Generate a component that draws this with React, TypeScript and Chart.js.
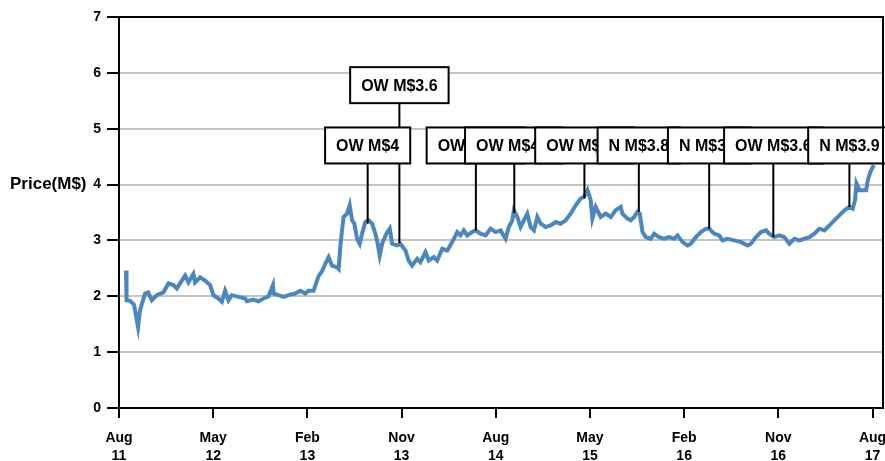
import React, { useEffect, useRef } from "react";
import { Chart, registerables } from "chart.js";

Chart.register(...registerables);

// Months since Aug 2011
const monthOffsets = [
  0.67, 0.72, 1.05, 1.44, 1.82, 2.01, 2.49, 2.8, 3.13, 3.61, 4.24, 4.72, 5.2, 5.52, 6.0, 6.32, 6.63, 7.11, 7.27, 7.75,
  8.23, 8.71, 9.02, 9.5, 9.83, 10.14, 10.46, 10.78, 11.42, 12.06, 12.22, 12.85, 13.33, 13.81, 14.29, 14.71, 14.77, 15.24, 15.72, 16.36,
  16.84, 17.32, 17.8, 18.11, 18.59, 19.07, 19.4, 19.71, 20.03, 20.35, 20.83, 20.99, 21.15, 21.31, 21.46, 21.79, 22.04, 22.27, 22.49, 22.75,
  23.0, 23.22, 23.54, 23.86, 24.18, 24.5, 24.72, 24.91, 25.14, 25.55, 25.87, 26.1, 26.57, 26.89, 27.37, 27.68, 28.01, 28.49, 28.8, 29.28,
  29.6, 30.08, 30.4, 30.88, 31.36, 31.84, 32.32, 32.63, 32.95, 33.27, 33.75, 34.07, 34.55, 35.02, 35.5, 35.98, 36.46, 36.94, 37.25, 37.58,
  37.73, 38.06, 38.37, 38.69, 39.01, 39.33, 39.65, 39.97, 40.29, 40.77, 41.24, 41.72, 42.2, 42.68, 43.16, 43.64, 44.11, 44.43, 44.76, 45.07,
  45.23, 45.55, 46.03, 46.51, 46.99, 47.46, 47.94, 48.1, 48.58, 48.9, 49.22, 49.54, 49.76, 50.02, 50.33, 50.81, 51.13, 51.61, 52.09, 52.56,
  53.04, 53.37, 53.85, 54.33, 54.64, 55.12, 55.6, 56.08, 56.39, 56.87, 57.35, 57.67, 58.15, 58.79, 59.43, 60.07, 60.38, 60.86, 61.34, 61.82,
  62.13, 62.61, 63.09, 63.57, 64.05, 64.53, 65.0, 65.48, 65.96, 66.44, 66.92, 67.4, 67.88, 68.35, 68.83, 69.31, 69.79, 70.11, 70.33, 70.46,
  70.75, 71.39, 71.55, 71.8, 72.12,
];

const prices = [
  2.46, 1.93, 1.92, 1.85, 1.45, 1.75, 2.05, 2.07, 1.93, 2.02, 2.07, 2.23, 2.2, 2.14, 2.28, 2.37, 2.25, 2.4, 2.25, 2.34,
  2.28, 2.2, 2.02, 1.96, 1.9, 2.1, 1.93, 2.02, 1.99, 1.96, 1.91, 1.94, 1.91, 1.96, 2.0, 2.2, 2.05, 2.02, 1.99, 2.03,
  2.05, 2.1, 2.05, 2.1, 2.1, 2.36, 2.45, 2.58, 2.7, 2.55, 2.52, 2.49, 2.9, 3.18, 3.42, 3.48, 3.63, 3.36, 3.3, 3.03,
  2.94, 3.12, 3.33, 3.36, 3.3, 3.12, 2.94, 2.73, 2.94, 3.12, 3.21, 2.94, 2.91, 2.94, 2.82, 2.64, 2.55, 2.67, 2.61, 2.79,
  2.64, 2.7, 2.64, 2.85, 2.82, 2.97, 3.15, 3.09, 3.18, 3.09, 3.15, 3.18, 3.12, 3.09, 3.21, 3.15, 3.18, 3.03, 3.24, 3.36,
  3.54, 3.42, 3.24, 3.36, 3.48, 3.24, 3.18, 3.42, 3.3, 3.24, 3.27, 3.33, 3.3, 3.36, 3.48, 3.63, 3.75, 3.78, 3.9, 3.72,
  3.39, 3.6, 3.42, 3.48, 3.42, 3.54, 3.6, 3.48, 3.39, 3.36, 3.42, 3.51, 3.48, 3.15, 3.06, 3.03, 3.12, 3.06, 3.03, 3.06,
  3.03, 3.09, 2.97, 2.91, 2.94, 3.06, 3.15, 3.21, 3.21, 3.12, 3.09, 3.0, 3.03, 3.0, 2.97, 2.91, 2.94, 3.06, 3.15, 3.18,
  3.12, 3.06, 3.09, 3.06, 2.94, 3.03, 3.0, 3.03, 3.06, 3.12, 3.21, 3.18, 3.27, 3.36, 3.45, 3.54, 3.6, 3.57, 3.72, 4.02,
  3.9, 3.9, 4.08, 4.23, 4.35,
];

const tickMonths = [0, 9, 18, 27, 36, 45, 54, 63, 72];
const tickMonthNames = ["Aug", "May", "Feb", "Nov", "Aug", "May", "Feb", "Nov", "Aug"];
const tickYears = ["11", "12", "13", "13", "14", "15", "16", "16", "17"];

const noteLabels = ["OW M$4", "OW M$3.6", "OW M$3.5", "OW M$4.2", "OW M$3.8", "N M$3.8", "N M$3.2", "OW M$3.6", "N M$3.9"];
const noteMonths = [23.76, 26.79, 34.1, 37.77, 44.47, 49.67, 56.39, 62.52, 69.79];
const notePrices = [3.3, 2.95, 3.18, 3.49, 3.75, 3.51, 3.21, 3.06, 3.6];
const noteRows = [0, 1, 0, 0, 0, 0, 0, 0, 0];

const FONT = '"Liberation Sans", Arial, Helvetica, sans-serif';
const ROW_LEVELS = [4.7, 5.78];
const BOX_H = 36;

const notesPlugin = {
  id: "notes",
  afterDatasetsDraw(chart: any) {
    const { ctx } = chart;
    const x = chart.scales.x;
    const y = chart.scales.y;
    ctx.save();
    ctx.font = `bold 16px ${FONT}`;
    const boxes = noteLabels.map((t, i) => {
      const px = x.getPixelForValue(noteMonths[i]);
      const cy = y.getPixelForValue(ROW_LEVELS[noteRows[i]]);
      const w = ctx.measureText(t).width + 22;
      return { t, px, cy, w, py: y.getPixelForValue(notePrices[i]) };
    });
    ctx.strokeStyle = "#000";
    ctx.lineWidth = 2;
    boxes.forEach((b) => {
      ctx.beginPath();
      ctx.moveTo(b.px, b.cy + BOX_H / 2);
      ctx.lineTo(b.px, b.py);
      ctx.stroke();
    });
    boxes.forEach((b) => {
      ctx.fillStyle = "#fff";
      ctx.fillRect(b.px - b.w / 2, b.cy - BOX_H / 2, b.w, BOX_H);
      ctx.strokeRect(b.px - b.w / 2, b.cy - BOX_H / 2, b.w, BOX_H);
      ctx.fillStyle = "#000";
      ctx.textAlign = "center";
      ctx.textBaseline = "middle";
      ctx.fillText(b.t, b.px, b.cy + 1);
    });
    ctx.restore();
  },
};

const framePlugin = {
  id: "frame",
  afterDraw(chart: any) {
    const { ctx, chartArea } = chart;
    const y = chart.scales.y;
    ctx.save();
    ctx.strokeStyle = "#000";
    ctx.lineWidth = 2;
    ctx.beginPath();
    ctx.moveTo(chartArea.left, chartArea.top);
    ctx.lineTo(chartArea.right, chartArea.top);
    ctx.lineTo(chartArea.right, chartArea.bottom);
    ctx.stroke();
    ctx.fillStyle = "#000";
    ctx.font = `bold 17px ${FONT}`;
    ctx.textAlign = "left";
    ctx.textBaseline = "middle";
    ctx.fillText("Price(M$)", 10, y.getPixelForValue(4));
    ctx.restore();
  },
};

export default function App() {
  const ref = useRef<HTMLCanvasElement>(null);
  useEffect(() => {
    if (!ref.current) return;
    const data = monthOffsets.map((m, i) => ({ x: m, y: prices[i] }));
    const chart = new Chart(ref.current, {
      type: "line",
      data: {
        datasets: [
          {
            data,
            borderColor: "#4a87c1",
            borderWidth: 4,
            pointRadius: 0,
            tension: 0,
            fill: false,
          },
        ],
      },
      options: {
        animation: false,
        responsive: false,
        devicePixelRatio: 1,
        layout: { padding: { top: 17, right: 2, left: 0, bottom: 0 } },
        plugins: { legend: { display: false }, tooltip: { enabled: false } },
        scales: {
          x: {
            type: "linear",
            min: 0,
            max: 73,
            afterBuildTicks: (scale: any) => {
              scale.ticks = tickMonths.map((v) => ({ value: v }));
            },
            afterFit: (scale: any) => {
              scale.height = 53;
              scale.paddingLeft = 0;
              scale.paddingRight = 0;
            },
            grid: {
              drawOnChartArea: false,
              drawTicks: true,
              tickLength: 10,
              tickColor: "#000",
              lineWidth: 2,
            },
            border: { display: true, color: "#000", width: 2 },
            ticks: {
              autoSkip: false,
              maxRotation: 0,
              minRotation: 0,
              padding: 11,
              color: "#000",
              font: { family: FONT, size: 14, weight: "bold", lineHeight: 1.3 },
              callback: (_v: any, i: number) => [tickMonthNames[i], tickYears[i]],
            },
          },
          y: {
            min: 0,
            max: 7,
            afterFit: (scale: any) => {
              scale.width = 119;
              scale.paddingTop = 0;
              scale.paddingBottom = 0;
            },
            grid: {
              color: "#c4c4c4",
              lineWidth: 2,
              drawTicks: true,
              tickLength: 12,
              tickColor: "#000",
            },
            border: { display: true, color: "#000", width: 2 },
            ticks: {
              stepSize: 1,
              padding: 6,
              color: "#000",
              font: { family: FONT, size: 14, weight: "bold" },
            },
          },
        },
      },
      plugins: [notesPlugin, framePlugin],
    });
    return () => chart.destroy();
  }, []);
  return (
    <div style={{ position: "absolute", left: 0, top: 0, width: 885, height: 461 }}>
      <canvas ref={ref} width={885} height={461} />
    </div>
  );
}
